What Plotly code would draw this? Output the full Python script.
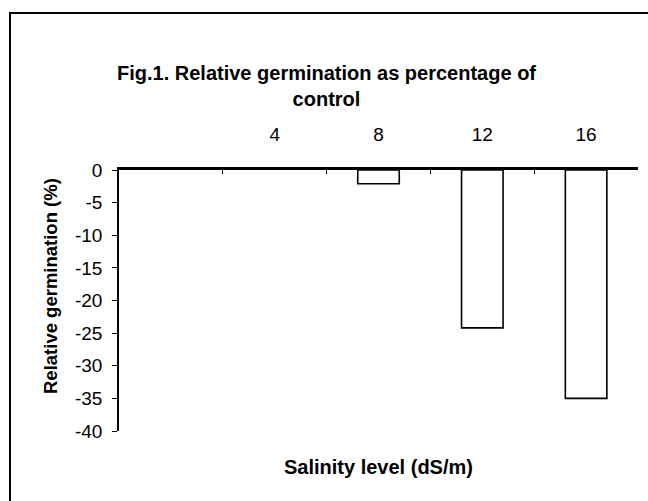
import plotly.graph_objects as go

categories = [" ", "4", "8", "12", "16"]
values = [None, None, -2.1, -24.2, -35.0]
y_ticks = [0, -5, -10, -15, -20, -25, -30, -35, -40]

title_text = "<b>Fig.1. Relative germination as percentage of<br>control</b>"
x_title = "<b>Salinity level (dS/m)</b>"
y_title = "<b>Relative germination (%)</b>"

FONT = "Liberation Sans, Arial, sans-serif"

W, H = 648, 501
L, T = 119, 170
R, B = 10, 70
plot_w = W - L - R
plot_h = H - T - B


def px_to_paper_x(px):
    return (px - L) / plot_w


def px_to_paper_y(py):
    return (H - B - py) / plot_h


fig = go.Figure()
fig.add_trace(go.Bar(
    x=categories, y=values,
    marker=dict(color="white", line=dict(color="black", width=1.6)),
    width=0.4,
))

fig.update_layout(
    width=W, height=H,
    margin=dict(l=L, r=R, t=T, b=B),
    paper_bgcolor="white", plot_bgcolor="white",
    showlegend=False,
    font=dict(family=FONT, color="black", size=19),
    xaxis=dict(
        type="category", categoryorder="array", categoryarray=categories,
        side="top", showline=True, linecolor="black", linewidth=3,
        ticks="inside", ticklen=4, tickwidth=1, tickcolor="black",
        tickson="boundaries", showgrid=False, zeroline=False,
        ticklabelstandoff=18,
        tickfont=dict(size=19),
    ),
    yaxis=dict(
        range=[-40, 0], tickvals=y_ticks, ticktext=[str(v) for v in y_ticks],
        showline=True, linecolor="black", linewidth=1.6,
        ticks="outside", ticklen=5, tickwidth=1, tickcolor="black",
        showgrid=False, zeroline=False, ticklabelstandoff=6,
        tickfont=dict(size=19),
    ),
    shapes=[dict(
        type="rect", xref="paper", yref="paper",
        x0=px_to_paper_x(10), x1=px_to_paper_x(700),
        y0=px_to_paper_y(560), y1=px_to_paper_y(13),
        line=dict(color="black", width=2), fillcolor="rgba(0,0,0,0)",
        layer="below",
    )],
    annotations=[
        dict(text=title_text, xref="paper", yref="paper",
             x=px_to_paper_x(326), y=px_to_paper_y(86),
             xanchor="center", yanchor="middle", showarrow=False,
             font=dict(size=20, family=FONT)),
        dict(text=x_title, xref="paper", yref="paper",
             x=px_to_paper_x(378.5), y=px_to_paper_y(467),
             xanchor="center", yanchor="middle", showarrow=False,
             font=dict(size=20, family=FONT)),
        dict(text=y_title, xref="paper", yref="paper",
             x=px_to_paper_x(50), y=px_to_paper_y(286),
             xanchor="center", yanchor="middle", showarrow=False, textangle=-90,
             font=dict(size=18.5, family=FONT)),
    ],
)

fig.write_html(
    "out.html",
    config={"displayModeBar": False},
    post_script="document.body.style.margin='0px';document.body.style.overflow='hidden';",
)
